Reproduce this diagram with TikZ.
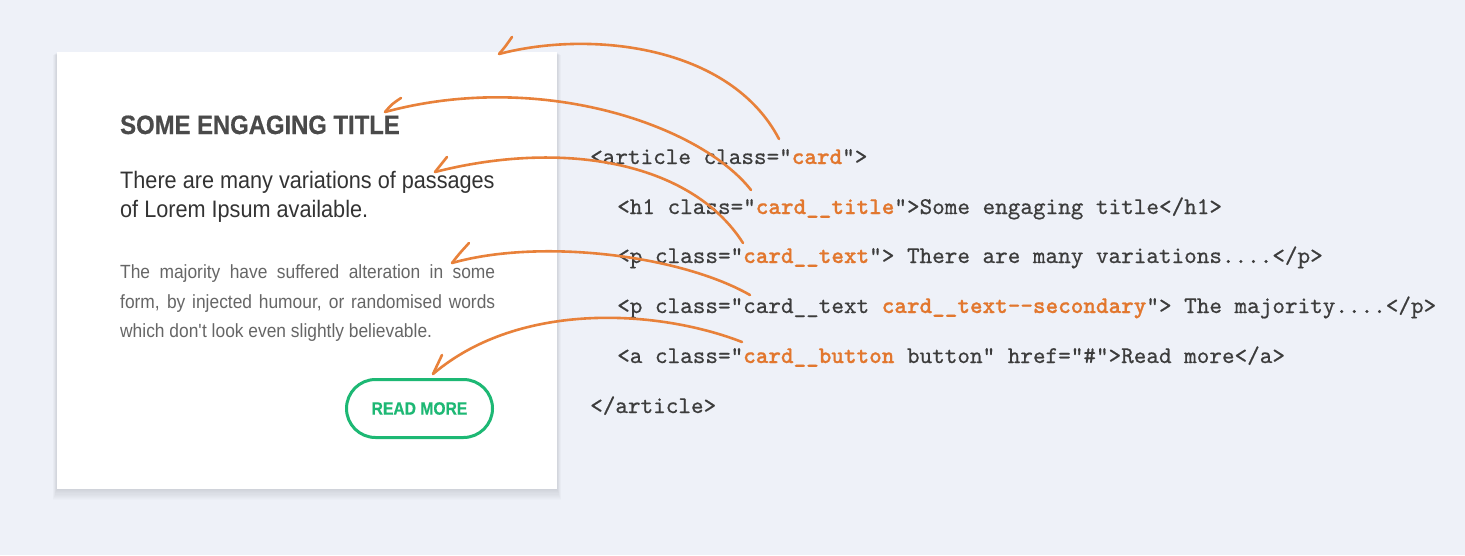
\documentclass[tikz,border=0pt]{standalone}
\usepackage{fontspec}
\newfontfamily\cardsans[FakeStretch=0.91]{Liberation Sans}
\newfontfamily\cardsansb[FakeBold=0.6]{Liberation Sans Bold}
\newfontfamily\codefont[FakeBold=0.6, BoldFont=lmmonolt10-bold.otf, BoldFeatures={FakeBold=0.8}]{lmmono10-regular.otf}
\definecolor{bgcol}{HTML}{EEF1F8}
\definecolor{arrcol}{HTML}{E8813A}
\definecolor{codeor}{HTML}{E2772E}
\definecolor{codetx}{HTML}{3C3C3C}
\definecolor{titlec}{HTML}{4A4A4A}
\definecolor{para1c}{HTML}{333333}
\definecolor{para2c}{HTML}{666666}
\definecolor{btnc}{HTML}{1DB874}
\newcommand\hl[1]{\textcolor{codeor}{\bfseries #1}}
\tikzset{
  arr/.style={draw=arrcol, line width=2.6pt, line cap=round, line join=round},
  code/.style={anchor=base west, inner sep=0pt, text=codetx, font=\codefont\fontsize{24}{27}\selectfont},
  ctext/.style={anchor=base west, inner sep=0pt},
}
\begin{document}
\begin{tikzpicture}[x=1pt,y=-1pt]
\useasboundingbox (0,0) rectangle (1465,555);
\fill[bgcol] (0,0) rectangle (1465,555);
% card shadow
\foreach \i in {1,...,10}{
  \fill[black, opacity=0.012] (57-0.4*\i,52+0.3*\i) rectangle (557+0.4*\i,489+1.1*\i);
}
\fill[white] (57,52) rectangle (557,489);
% card texts
\node[ctext, text=titlec, font=\cardsansb\fontsize{26.5}{30}\selectfont] (title) at (120,134) {\scalebox{0.9}[1]{SOME ENGAGING TITLE}};
\node[ctext, text=para1c, font=\cardsans\fontsize{23.8}{28}\selectfont] (p1a) at (120,188) {There are many variations of passages};
\node[ctext, text=para1c, font=\cardsans\fontsize{23.8}{28}\selectfont] (p1b) at (120,217) {of Lorem Ipsum available.};
\node[ctext, text=para2c, font=\cardsans\fontsize{19.1}{22}\selectfont] (p2a) at (120,278) {\makebox[375pt][s]{The majority have suffered alteration in some}};
\node[ctext, text=para2c, font=\cardsans\fontsize{19.1}{22}\selectfont] (p2b) at (120,308) {\makebox[375pt][s]{form, by injected humour, or randomised words}};
\node[ctext, text=para2c, font=\cardsans\fontsize{19.1}{22}\selectfont] (p2c) at (120,337) {which don\textquotesingle t look even slightly believable.};
\node[draw=btnc, line width=3pt, rounded corners=29pt, minimum width=146pt, minimum height=58pt, inner sep=0pt, text=btnc, font=\cardsansb\fontsize{17.8}{20}\selectfont] (btn) at (419.5,408.5) {\scalebox{0.88}[1]{READ MORE}};
% code
\node[code] (l1) at (590,164) {<article class=”\hl{card}”>};
\node[code] (l2) at (617,214) {<h1 class=”\hl{card\_\_title}”>Some engaging title</h1>};
\node[code] (l3) at (617,263) {<p class=”\hl{card\_\_text}”> There are many variations....</p>};
\node[code] (l4) at (617,313) {<p class=”card\_\_text \hl{card\_\_text-{}-secondary}”> The majority....</p>};
\node[code] (l5) at (617,363) {<a class=”\hl{card\_\_button} button” href=”\#”>Read more</a>};
\node[code] (l6) at (590,413) {</article>};
% arrow coordinates
\coordinate (a1s) at (779,139); \coordinate (a1e) at (499,54);  \coordinate (a1b) at (512,37);
\coordinate (a2s) at (751,190); \coordinate (a2e) at (385,112); \coordinate (a2b) at (401,98);
\coordinate (a3s) at (743,243); \coordinate (a3e) at (435,172); \coordinate (a3b) at (447,157);
\coordinate (a4s) at (750,295); \coordinate (a4e) at (452,263); \coordinate (a4b) at (469,243);
\coordinate (a5s) at (742,342); \coordinate (a5e) at (433,374); \coordinate (a5b) at (442,355);
\draw[arr] (a1s) .. controls (730,45) and (590,30) .. (a1e);
\draw[arr] (a1e) .. controls (505,47) .. (a1b);
\draw[arr] (a2s) .. controls (700,125) and (540,70) .. (a2e);
\draw[arr] (a2e) .. controls (392,104) .. (a2b);
\draw[arr] (a3s) .. controls (690,160) and (560,140) .. (a3e);
\draw[arr] (a3e) .. controls (441,164) .. (a3b);
\draw[arr] (a4s) .. controls (680,255) and (540,238) .. (a4e);
\draw[arr] (a4e) .. controls (459,254) .. (a4b);
\draw[arr] (a5s) .. controls (660,310) and (520,300) .. (a5e);
\draw[arr] (a5e) .. controls (437,364) .. (a5b);
\end{tikzpicture}
\end{document}
